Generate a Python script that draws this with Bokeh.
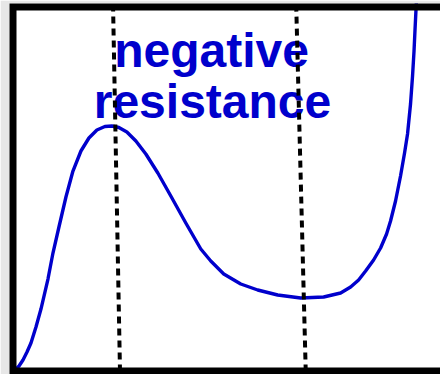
from bokeh.plotting import figure
from bokeh.models import Range1d, BoxAnnotation
from bokeh.core.properties import value
from bokeh.embed import file_html
from bokeh.resources import INLINE

# Tunnel-diode style I-V characteristic (arbitrary units, 0-100 on both axes)
voltage = [0.0, 1.29, 2.22, 3.16, 4.09, 5.26, 6.43, 8.07, 9.24, 10.64, 12.28,
           13.92, 15.79, 17.66, 19.53, 21.40, 23.04, 24.68, 26.55, 28.66, 30.99,
           33.80, 36.84, 40.35, 43.86, 46.20, 49.24, 53.22, 57.19, 61.87, 67.25,
           72.63, 76.61, 78.95, 80.82, 82.46, 84.33, 85.97, 87.37, 88.30, 89.47,
           90.64, 91.58, 92.28, 92.98, 93.45, 93.80, 94.04, 94.27, 94.39]
current = [0.0, 1.51, 3.16, 5.36, 7.83, 12.23, 17.17, 25.41, 32.55, 39.70, 47.94,
           55.08, 60.58, 64.15, 66.35, 67.31, 67.45, 67.03, 65.80, 63.32, 59.75,
           54.53, 48.21, 40.80, 33.65, 30.36, 26.79, 24.04, 22.39, 21.02, 20.19,
           20.47, 21.57, 23.21, 25.14, 27.61, 30.63, 33.93, 37.77, 41.35, 46.84,
           53.71, 60.03, 65.25, 73.49, 81.18, 88.05, 94.09, 99.59, 102.3]

# Boundaries of the negative-resistance region (bottom and top x of each marker)
marker_bottom_x = [24.94, 68.44]
marker_top_x = [23.32, 66.22]

label_lines = ["negative", "resistance"]

BLUE = "#0000cc"

X0, X1 = -0.94, 100.0
Y0, Y1 = -0.82, 101.1

p = figure(width=440, height=374, output_backend="svg", toolbar_location=None,
           x_range=Range1d(X0, X1), y_range=Range1d(Y0, Y1),
           min_border_left=9, min_border_right=0, min_border_top=3,
           min_border_bottom=0)
p.axis.visible = False
p.grid.visible = False
p.outline_line_color = None
p.background_fill_color = "white"
p.border_fill_color = "#e7e7e7"

p.text(x=[46.4, 46.6], y=[88.1, 74.1], text=label_lines,
       text_font=value("Liberation Sans"), text_font_style="bold",
       text_font_size="48px", text_align="center",
       text_baseline="alphabetic", text_color=BLUE)

p.line(voltage, current, line_color=BLUE, line_width=3.4, line_join="round")

p.segment(x0=marker_bottom_x, y0=[0, 0], x1=marker_top_x, y1=[100, 100],
          line_color="black", line_width=4, line_dash="7 5")

# Thick frame on the left, top and bottom (the inner half of the stroke shows);
# its right side runs past the view
p.add_layout(BoxAnnotation(left=X0, right=130, bottom=Y0, top=Y1,
                           fill_color=None, fill_alpha=0, line_color="black",
                           line_alpha=1, line_width=14, line_join="round"))

open("out.html", "w").write(file_html(p, INLINE))
